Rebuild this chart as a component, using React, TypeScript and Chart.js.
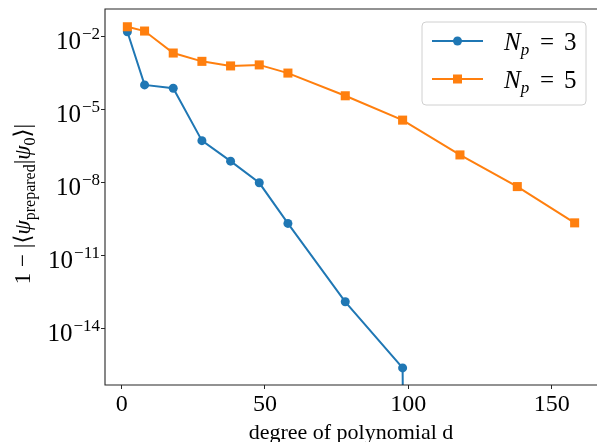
import React, { useEffect, useRef } from "react";
import { Chart, registerables } from "chart.js";

Chart.register(...registerables);

// Data (log-scale values)
const degreesNp3 = [2, 8, 18, 28, 38, 48, 58, 78, 98, 118];
// last value stands for an exact zero (clipped to the bottom in the original log plot)
const infidelityNp3 = [1.5e-2, 9.8e-5, 7.1e-5, 5.0e-7, 7.2e-8, 9.3e-9, 2.0e-10, 1.2e-13, 2.3e-16, 1e-300];

const degreesNp5 = [2, 8, 18, 28, 38, 48, 58, 78, 98, 118, 138, 158];
const infidelityNp5 = [2.4e-2, 1.6e-2, 2.0e-3, 9.1e-4, 5.9e-4, 6.5e-4, 3.0e-4, 3.5e-5, 3.5e-6, 1.3e-7, 6.5e-9, 2.1e-10];

const seriesLabels = ["N_p = 3", "N_p = 5"];
const xTickValues = [0, 50, 100, 150];
const yTickExponents = [-2, -5, -8, -11, -14];

const xTitle = "degree of polynomial d";

const BLUE = "#1f77b4";
const ORANGE = "#ff7f0e";
const SERIF = "'Liberation Serif', 'DejaVu Serif', serif";

const framePlugin = {
  id: "frame",
  afterDatasetsDraw(chart: any) {
    const { ctx, chartArea: a } = chart;
    ctx.save();
    ctx.strokeStyle = "#262626";
    ctx.lineWidth = 1.1;
    ctx.beginPath();
    ctx.moveTo(a.right + 1, a.top);
    ctx.lineTo(a.left, a.top);
    ctx.lineTo(a.left, a.bottom);
    ctx.lineTo(a.right + 1, a.bottom);
    ctx.stroke();
    ctx.restore();
  },
};

// y tick labels drawn as 10 with a raised exponent, like the original's math text
const yLabelsPlugin = {
  id: "yLabels",
  afterDraw(chart: any) {
    const { ctx } = chart;
    const scale = chart.scales.y;
    ctx.save();
    ctx.fillStyle = "#000";
    ctx.textBaseline = "alphabetic";
    const rightEdge = scale.right - 5;
    for (const t of scale.ticks) {
      const e = Math.round(Math.log10(t.value));
      const py = scale.getPixelForValue(t.value);
      const exp = "\u2212" + String(Math.abs(e));
      ctx.font = `17px ${SERIF}`;
      const ew = ctx.measureText(exp).width;
      ctx.font = `25px ${SERIF}`;
      const bw = ctx.measureText("10").width;
      const x0 = rightEdge - ew - bw - 1;
      ctx.fillText("10", x0, py + 12.5);
      ctx.font = `17px ${SERIF}`;
      ctx.fillText(exp, x0 + bw + 1, py + 2.5);
    }
    ctx.restore();
  },
};

const yTitlePlugin = {
  id: "ytitle",
  afterDraw(chart: any) {
    const { ctx, chartArea: a } = chart;
    const big = `23px ${SERIF}`;
    const small = `16px ${SERIF}`;
    const ital = `italic 23px ${SERIF}`;
    const parts: [string, string, number][] = [
      ["1 \u2212 |\u27E8", big, 0],
      ["\u03C8", ital, 0],
      ["prepared", small, 5],
      ["|", big, 0],
      ["\u03C8", ital, 0],
      ["0", small, 5],
      ["\u27E9|", big, 0],
    ];
    ctx.save();
    let total = 0;
    for (const [t, f] of parts) {
      ctx.font = f;
      total += ctx.measureText(t).width;
    }
    const cy = (a.top + a.bottom) / 2 + 7;
    ctx.translate(30, cy);
    ctx.rotate(-Math.PI / 2);
    ctx.fillStyle = "#000";
    ctx.textBaseline = "alphabetic";
    let x = -total / 2;
    for (const [t, f, dy] of parts) {
      ctx.font = f;
      ctx.fillText(t, x, dy);
      x += ctx.measureText(t).width;
    }
    ctx.restore();
  },
};

const legendPlugin = {
  id: "customLegend",
  afterDraw(chart: any) {
    const { ctx, chartArea: a } = chart;
    const w = 164;
    const h = 83;
    const right = a.right - 11;
    const top = a.top + 13;
    const left = right - w;
    ctx.save();
    ctx.beginPath();
    const r = 4;
    ctx.moveTo(left + r, top);
    ctx.arcTo(right, top, right, top + h, r);
    ctx.arcTo(right, top + h, left, top + h, r);
    ctx.arcTo(left, top + h, left, top, r);
    ctx.arcTo(left, top, right, top, r);
    ctx.closePath();
    ctx.fillStyle = "rgba(255,255,255,0.85)";
    ctx.fill();
    ctx.strokeStyle = "#d0d0d0";
    ctx.lineWidth = 1;
    ctx.stroke();

    chart.data.datasets.forEach((ds: any, i: number) => {
      const cy = top + 19 + i * 38;
      const x0 = left + 10;
      const x1 = left + 61;
      ctx.strokeStyle = ds.borderColor;
      ctx.lineWidth = 2;
      ctx.beginPath();
      ctx.moveTo(x0, cy);
      ctx.lineTo(x1, cy);
      ctx.stroke();
      ctx.fillStyle = ds.borderColor;
      const mx = (x0 + x1) / 2;
      if (ds.pointStyle === "rect") {
        ctx.fillRect(mx - 4.5, cy - 4.5, 9, 9);
      } else {
        ctx.beginPath();
        ctx.arc(mx, cy, 4.5, 0, Math.PI * 2);
        ctx.fill();
      }
      // label "N_p = k"
      const [main, rest] = String(ds.label).split("_");
      const sub = rest.charAt(0);
      const [, eq, num] = rest.split(" ");
      const base = cy + 9;
      ctx.fillStyle = "#000";
      ctx.textBaseline = "alphabetic";
      ctx.font = `italic 25px ${SERIF}`;
      ctx.fillText(main, left + 82, base);
      const nw = ctx.measureText(main).width;
      ctx.font = `italic 17px ${SERIF}`;
      ctx.fillText(sub, left + 82 + nw, base + 5);
      ctx.font = `25px ${SERIF}`;
      ctx.fillText(eq, left + 118, base);
      ctx.fillText(num, left + 142, base);
    });
    ctx.restore();
  },
};

export default function App() {
  const ref = useRef<HTMLCanvasElement | null>(null);

  useEffect(() => {
    if (!ref.current) return;
    const chart = new Chart(ref.current, {
      type: "line",
      data: {
        datasets: [
          {
            label: seriesLabels[0],
            data: degreesNp3.map((x, i) => ({ x, y: infidelityNp3[i] })),
            borderColor: BLUE,
            backgroundColor: BLUE,
            borderWidth: 2,
            pointStyle: "circle",
            pointRadius: 4.5,
            pointBorderWidth: 0,
            pointHoverRadius: 4.5,
            order: 2,
          },
          {
            label: seriesLabels[1],
            data: degreesNp5.map((x, i) => ({ x, y: infidelityNp5[i] })),
            borderColor: ORANGE,
            backgroundColor: ORANGE,
            borderWidth: 2,
            pointStyle: "rect",
            pointRadius: 6.4,
            pointBorderWidth: 0,
            pointHoverRadius: 6.4,
            order: 1,
          },
        ],
      },
      options: {
        responsive: false,
        animation: false,
        events: [],
        layout: { autoPadding: false, padding: { left: 0, right: 0, top: 9, bottom: 0 } },
        plugins: { legend: { display: false }, tooltip: { enabled: false } },
        scales: {
          x: {
            type: "linear",
            min: -5.8,
            max: 165.8,
            afterBuildTicks: (s: any) => {
              s.ticks = xTickValues.map((v) => ({ value: v }));
            },
            afterFit: (s: any) => {
              s.height = 57;
              s.paddingLeft = 0;
              s.paddingRight = 0;
            },
            grid: { drawOnChartArea: false, drawTicks: true, tickLength: 4, tickColor: "#262626", tickWidth: 1 },
            border: { display: false },
            ticks: { color: "#000", font: { family: SERIF, size: 24 }, padding: 1, maxRotation: 0 },
            title: {
              display: true,
              text: xTitle,
              color: "#000",
              font: { family: SERIF, size: 22 },
              padding: { top: 0, bottom: -4 },
            },
          },
          y: {
            type: "logarithmic",
            min: Math.pow(10, -16.34),
            max: Math.pow(10, -0.89),
            afterBuildTicks: (s: any) => {
              s.ticks = yTickExponents.map((e) => ({ value: Math.pow(10, e) }));
            },
            afterFit: (s: any) => {
              s.width = 105;
              s.paddingTop = 0;
              s.paddingBottom = 0;
            },
            grid: { drawOnChartArea: false, drawTicks: true, tickLength: 4, tickColor: "#262626", tickWidth: 1 },
            border: { display: false },
            ticks: { display: false },
          },
        },
      },
      plugins: [framePlugin, yLabelsPlugin, yTitlePlugin, legendPlugin],
    });
    return () => chart.destroy();
  }, []);

  return (
    <div style={{ position: "fixed", left: 0, top: 0, width: 597, height: 442, background: "#fff" }}>
      <canvas ref={ref} width={597} height={442} style={{ display: "block" }} />
    </div>
  );
}
